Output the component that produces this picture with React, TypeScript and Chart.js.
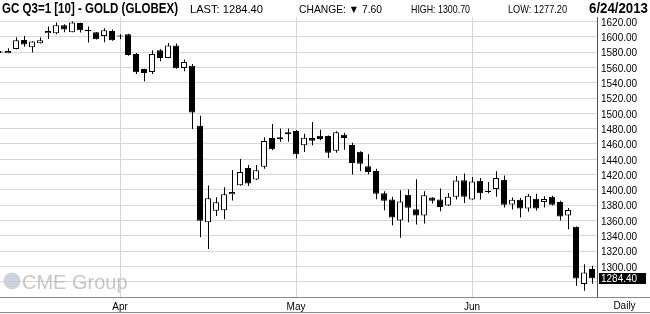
import React, { useEffect, useRef } from 'react';
import { Chart, registerables } from 'chart.js';

Chart.register(...registerables);

// Trading days (one candle each)
const dates: string[] = [
  '2013-03-08', '2013-03-11', '2013-03-12', '2013-03-13', '2013-03-14', '2013-03-15',
  '2013-03-18', '2013-03-19', '2013-03-20', '2013-03-21', '2013-03-22',
  '2013-03-25', '2013-03-26', '2013-03-27', '2013-03-28',
  '2013-04-01', '2013-04-02', '2013-04-03', '2013-04-04', '2013-04-05',
  '2013-04-08', '2013-04-09', '2013-04-10', '2013-04-11', '2013-04-12',
  '2013-04-15', '2013-04-16', '2013-04-17', '2013-04-18', '2013-04-19',
  '2013-04-22', '2013-04-23', '2013-04-24', '2013-04-25', '2013-04-26',
  '2013-04-29', '2013-04-30',
  '2013-05-01', '2013-05-02', '2013-05-03',
  '2013-05-06', '2013-05-07', '2013-05-08', '2013-05-09', '2013-05-10',
  '2013-05-13', '2013-05-14', '2013-05-15', '2013-05-16', '2013-05-17',
  '2013-05-20', '2013-05-21', '2013-05-22', '2013-05-23', '2013-05-24',
  '2013-05-28', '2013-05-29', '2013-05-30', '2013-05-31',
  '2013-06-03', '2013-06-04', '2013-06-05', '2013-06-06', '2013-06-07',
  '2013-06-10', '2013-06-11', '2013-06-12', '2013-06-13', '2013-06-14',
  '2013-06-17', '2013-06-18', '2013-06-19', '2013-06-20', '2013-06-21',
  '2013-06-24',
];

const opens: number[] = [
  1581.0, 1578.7, 1584.3, 1596.0, 1586.5, 1591.7, 1604.8, 1604.8, 1615.2, 1606.1,
  1618.3, 1609.3, 1606.1, 1601.3, 1607.8, 1601.7, 1603.5, 1577.7, 1558.1, 1554.1,
  1582.5, 1572.5, 1588.6, 1559.4, 1562.4, 1483.8, 1357.6, 1372.6, 1373.5, 1394.3,
  1406.1, 1428.7, 1413.5, 1430.4, 1467.8, 1466.1, 1475.2, 1477.0, 1458.3, 1467.8,
  1470.9, 1470.4, 1451.3, 1472.2, 1458.7, 1450.0, 1430.9, 1424.8, 1395.7, 1387.4,
  1360.0, 1393.5, 1374.8, 1366.5, 1390.0, 1387.4, 1379.6, 1390.9, 1412.6, 1387.4,
  1412.1, 1399.0, 1401.2, 1413.4, 1381.0, 1387.2, 1375.8, 1388.5, 1384.1, 1391.1,
  1384.1, 1366.5, 1351.7, 1276.9, 1296.6,
];

const highs: number[] = [
  1581.5, 1585.2, 1599.6, 1601.3, 1594.2, 1599.6, 1613.5, 1618.7, 1616.5, 1620.0,
  1618.5, 1613.5, 1606.5, 1611.3, 1609.6, 1603.5, 1604.0, 1579.0, 1558.5, 1582.5,
  1584.3, 1592.1, 1591.3, 1570.3, 1564.6, 1496.9, 1405.7, 1390.4, 1403.5, 1426.1,
  1440.4, 1432.6, 1432.6, 1468.7, 1486.1, 1480.4, 1480.4, 1478.3, 1473.5, 1488.7,
  1478.7, 1471.0, 1476.5, 1474.8, 1461.7, 1450.5, 1446.5, 1427.8, 1398.3, 1390.9,
  1399.6, 1400.4, 1413.9, 1398.3, 1390.4, 1401.7, 1396.1, 1418.3, 1421.3, 1417.0,
  1415.6, 1410.4, 1424.4, 1418.7, 1390.2, 1389.4, 1394.6, 1395.0, 1391.6, 1392.4,
  1385.9, 1376.2, 1352.2, 1302.7, 1300.7,
];

const lows: number[] = [
  1579.0, 1578.5, 1584.0, 1587.0, 1579.5, 1591.5, 1597.4, 1603.5, 1606.0, 1606.0,
  1605.6, 1592.6, 1596.5, 1593.0, 1595.0, 1597.0, 1575.5, 1551.5, 1541.9, 1551.5,
  1568.0, 1572.0, 1558.5, 1555.0, 1479.5, 1338.0, 1322.7, 1366.0, 1361.7, 1386.1,
  1405.5, 1405.2, 1413.0, 1427.8, 1451.7, 1463.0, 1463.0, 1440.9, 1449.6, 1458.3,
  1464.8, 1441.7, 1448.7, 1452.6, 1420.0, 1424.3, 1420.4, 1387.8, 1373.5, 1353.9,
  1337.4, 1357.8, 1354.8, 1356.1, 1382.2, 1372.2, 1379.0, 1387.4, 1383.0, 1387.0,
  1387.6, 1395.5, 1391.1, 1377.1, 1374.5, 1364.0, 1371.4, 1373.2, 1377.1, 1379.7,
  1360.0, 1348.7, 1274.7, 1268.2, 1277.2,
];

const closes: number[] = [
  1579.5, 1581.7, 1595.6, 1590.0, 1594.0, 1595.6, 1607.8, 1615.2, 1609.6, 1618.7,
  1608.7, 1607.5, 1597.0, 1608.7, 1595.6, 1600.5, 1576.2, 1553.7, 1552.8, 1577.7,
  1572.5, 1588.6, 1559.0, 1567.2, 1501.3, 1359.8, 1389.1, 1383.9, 1394.3, 1397.4,
  1423.5, 1408.3, 1425.6, 1463.9, 1453.0, 1468.7, 1472.6, 1446.5, 1468.3, 1464.3,
  1466.5, 1448.7, 1475.2, 1467.8, 1435.2, 1434.3, 1423.5, 1394.8, 1385.7, 1363.9,
  1384.8, 1376.5, 1366.5, 1393.0, 1385.7, 1377.8, 1390.9, 1412.2, 1390.9, 1410.9,
  1395.5, 1397.2, 1415.6, 1380.6, 1387.2, 1375.8, 1392.4, 1375.8, 1388.1, 1380.6,
  1365.3, 1373.6, 1284.3, 1292.0, 1284.4,
];

const monthNames: string[] = ['Jan', 'Feb', 'Mar', 'Apr', 'May', 'Jun', 'Jul', 'Aug', 'Sep', 'Oct', 'Nov', 'Dec'];
const yTicks: number[] = [
  1280, 1300, 1320, 1340, 1360, 1380, 1400, 1420, 1440, 1460, 1480, 1500,
  1520, 1540, 1560, 1580, 1600, 1620,
];
const yMin = 1260;
const yMax = 1626;

const headerTitle = 'GC Q3=1 [10] - GOLD (GLOBEX)';
const headerLast = 'LAST: 1284.40';
const headerChange = 'CHANGE: \u25BC 7.60';
const headerHigh = 'HIGH: 1300.70';
const headerLow = 'LOW: 1277.20';
const headerDate = '6/24/2013';
const periodLabel = 'Daily';
const watermark = 'CME Group';

const SANS = '"Liberation Sans", Arial, sans-serif';
const NARROW = '"Liberation Sans Narrow", "Arial Narrow", "Liberation Sans", Arial, sans-serif';

// month-start indices derived from dates
const monthStarts: number[] = dates
  .map((d, i) => (i > 0 && d.slice(5, 7) !== dates[i - 1].slice(5, 7) ? i : -1))
  .filter((i) => i >= 0);

function fitText(ctx: CanvasRenderingContext2D, text: string, x: number, y: number, w: number, font: string, color: string) {
  ctx.save();
  ctx.font = font;
  ctx.fillStyle = color;
  ctx.textAlign = 'left';
  ctx.textBaseline = 'alphabetic';
  const mw = ctx.measureText(text).width;
  const sx = mw > 0 ? w / mw : 1;
  ctx.translate(x, y);
  ctx.scale(sx, 1);
  ctx.fillText(text, 0, 0);
  ctx.restore();
}

const decorPlugin = {
  id: 'decor',
  beforeDatasetsDraw(chart: any) {
    const ctx: CanvasRenderingContext2D = chart.ctx;
    const area = chart.chartArea;
    ctx.save();
    // watermark
    ctx.fillStyle = 'rgba(185,198,210,0.75)';
    ctx.beginPath();
    ctx.arc(area.left + 12, area.bottom - 16, 8.5, 0, Math.PI * 2);
    ctx.fill();
    ctx.font = '20px ' + SANS;
    ctx.fillStyle = 'rgba(175,175,175,0.7)';
    ctx.textBaseline = 'alphabetic';
    ctx.fillText(watermark, area.left + 22, area.bottom - 8);
    ctx.restore();
  },
  afterDraw(chart: any) {
    const ctx: CanvasRenderingContext2D = chart.ctx;
    const area = chart.chartArea;
    const W = chart.width;
    const H = chart.height;
    const yScale = chart.scales.y;
    ctx.save();
    // header texts
    fitText(ctx, headerTitle, 2, 13, 176, 'bold 14px ' + NARROW, '#000');
    fitText(ctx, headerLast, 190, 13, 73, '11px ' + SANS, '#000');
    fitText(ctx, headerChange, 299, 13, 83, '11px ' + SANS, '#000');
    fitText(ctx, headerHigh, 411, 13, 59, '11px ' + SANS, '#000');
    fitText(ctx, headerLow, 508, 13, 59, '11px ' + SANS, '#000');
    fitText(ctx, headerDate, 589, 13, 59, 'bold 14px ' + NARROW, '#000');

    // frame lines
    ctx.strokeStyle = '#8a8a8a';
    ctx.lineWidth = 1;
    ctx.beginPath();
    ctx.moveTo(0, Math.round(area.bottom) + 0.5);
    ctx.lineTo(W, Math.round(area.bottom) + 0.5);
    ctx.moveTo(0, H - 1.5);
    ctx.lineTo(W, H - 1.5);
    ctx.stroke();

    // last price box
    const lastVal = closes[closes.length - 1];
    const py = yScale.getPixelForValue(lastVal);
    ctx.fillStyle = '#000';
    ctx.fillRect(area.right + 2, Math.round(py) - 5, 47, 11);
    ctx.fillStyle = '#fff';
    ctx.font = '10px ' + SANS;
    ctx.textBaseline = 'middle';
    ctx.textAlign = 'left';
    ctx.fillText(lastVal.toFixed(2), area.right + 4, Math.round(py) + 1);

    // period label
    ctx.fillStyle = '#000';
    ctx.textAlign = 'center';
    ctx.fillText(periodLabel, (area.right + W) / 2 + 1, (area.bottom + H) / 2 + 1);
    ctx.restore();
  },
};

export default function App() {
  const ref = useRef<HTMLCanvasElement | null>(null);

  useEffect(() => {
    if (!ref.current) return;
    const bodyData = opens.map((o, i) => ({ x: i, y: [Math.min(o, closes[i]), Math.max(o, closes[i])] }));
    const wickData = lows.map((l, i) => ({ x: i, y: [l, highs[i]] }));
    const bodyColors = opens.map((o, i) => (closes[i] >= o ? '#ffffff' : '#000000'));
    const span = 597 / 8; // 8 px per trading day

    const chart = new Chart(ref.current, {
      type: 'bar',
      data: {
        datasets: [
          {
            label: 'body',
            data: bodyData as any,
            xAxisID: 'x',
            backgroundColor: bodyColors,
            borderColor: '#000',
            borderWidth: 1,
            borderSkipped: false,
            barThickness: 6,
            grouped: false,
            order: 0,
            inflateAmount: 0,
          } as any,
          {
            label: 'wick',
            data: wickData as any,
            xAxisID: 'xw',
            backgroundColor: '#000',
            borderWidth: 0,
            barThickness: 1,
            grouped: false,
            order: 1,
            inflateAmount: 0,
          } as any,
        ],
      },
      options: {
        animation: false,
        responsive: false,
        maintainAspectRatio: false,
        layout: { padding: { top: 17, left: 0, right: 0, bottom: 0 } },
        plugins: {
          legend: { display: false },
          tooltip: { enabled: false },
          title: { display: false },
        },
        scales: {
          x: {
            type: 'linear',
            position: 'bottom',
            offset: false,
            min: 0,
            max: span,
            afterBuildTicks: (s: any) => {
              s.ticks = monthStarts.map((v) => ({ value: v }));
            },
            afterFit: (s: any) => {
              s.height = 17;
            },
            ticks: {
              autoSkip: false,
              maxRotation: 0,
              padding: 4,
              color: '#000',
              font: { family: SANS, size: 10 },
              callback: (v: any) => monthNames[parseInt(dates[v as number].slice(5, 7), 10) - 1],
            },
            grid: { color: '#d6d6d6', drawTicks: false, lineWidth: 1, offset: false },
            border: { display: true, color: '#8a8a8a' },
          } as any,
          xw: {
            type: 'linear',
            display: false,
            offset: false,
            min: -1 / 16,
            max: span - 1 / 16,
            grid: { offset: false },
          } as any,
          y: {
            type: 'linear',
            position: 'right',
            min: yMin,
            max: yMax,
            afterBuildTicks: (s: any) => {
              s.ticks = yTicks.map((v) => ({ value: v }));
            },
            afterFit: (s: any) => {
              s.width = 53;
            },
            ticks: {
              padding: 4,
              labelOffset: 1.5,
              color: '#000',
              font: { family: SANS, size: 10 },
              callback: (v: any) => (v >= 1300 ? Number(v).toFixed(2) : ''),
            },
            grid: { color: '#d6d6d6', drawTicks: false, lineWidth: 1 },
            border: { display: true, color: '#555' },
          } as any,
        },
      },
      plugins: [decorPlugin],
    });
    return () => chart.destroy();
  }, []);

  return (
    <div style={{ position: 'absolute', left: 0, top: 0, width: 650, height: 314, background: '#fff' }}>
      <canvas ref={ref} width={650} height={314} style={{ width: 650, height: 314, display: 'block' }} />
    </div>
  );
}
